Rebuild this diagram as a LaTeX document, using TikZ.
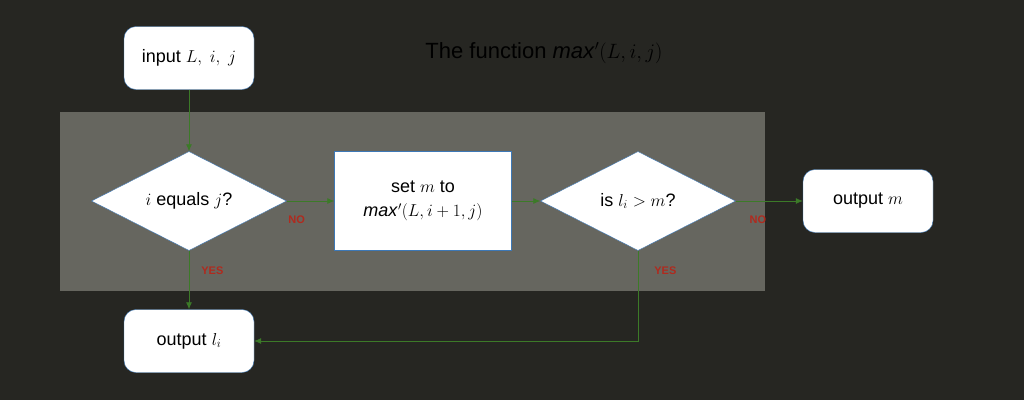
\documentclass[tikz,border=0pt]{standalone}
\usepackage{fontspec}
\setmainfont{Liberation Sans}
\usetikzlibrary{shapes.geometric,arrows.meta}

\definecolor{bgdark}{HTML}{262622}
\definecolor{panelgray}{HTML}{66665F}
\definecolor{edgeblue}{HTML}{3D78B6}
\definecolor{flowgreen}{HTML}{3C7A28}
\definecolor{labred}{HTML}{B02A1E}

\begin{document}
\begin{tikzpicture}[x=1pt,y=-1pt,node distance=230pt,
    box/.style={rectangle,rounded corners=12pt,draw=edgeblue,fill=white,text=black,
        minimum width=130pt,minimum height=63pt,font=\fontsize{18}{21}\selectfont},
    test/.style={diamond,draw=edgeblue,fill=white,text=black,inner sep=0pt,aspect=2,
        minimum width=195pt,minimum height=99pt,font=\fontsize{18}{21}\selectfont},
    work/.style={rectangle,draw=edgeblue,fill=white,text=black,align=center,
        minimum width=177pt,minimum height=99pt,font=\fontsize{18}{24}\selectfont},
    flow/.style={draw=flowgreen,line width=0.8pt,-{Latex[length=7pt,width=6pt]}},
    lab/.style={text=labred,font=\fontsize{11}{12}\bfseries\selectfont,inner sep=0pt}]
    % background and loop panel
    \fill[bgdark] (0,0) rectangle (1024,400);
    \fill[panelgray] (60,112) rectangle (765,291);
    \node[text=black,font=\fontsize{22}{26}\selectfont] (title) at (544,53)
        {The function \textit{max}$'(L,i,j)$};
    % flow chart
    \node[test] (eq) at (189,201) {$i$ equals $j$?};
    \node[box] (in) [above of=eq, node distance=143pt] {input $L,\ i,\ j$};
    \node[work] (set) [right of=eq, node distance=234pt] {set $m$ to\\\textit{max}$'(L,i+1,j)$};
    \node[test] (cmp) [right of=set, node distance=215pt] {is $l_i>m$?};
    \node[box] (outm) [right of=cmp] {output $m$};
    \node[box] (outl) [below of=eq, node distance=140pt] {output $l_i$};
    \path
    (in) edge[flow] (eq)
    (eq) edge[flow] node[lab,pos=0.21,below=14pt] {NO} (set)
         edge[flow] node[lab,pos=0.34,right=12pt] {YES} (outl)
    (set) edge[flow] (cmp)
    (cmp) edge[flow] node[lab,pos=0.33,below=14pt] {NO} (outm);
    \draw[flow] (cmp) |- node[lab,pos=0.11,right=16pt] {YES} (outl);
\end{tikzpicture}
\end{document}
